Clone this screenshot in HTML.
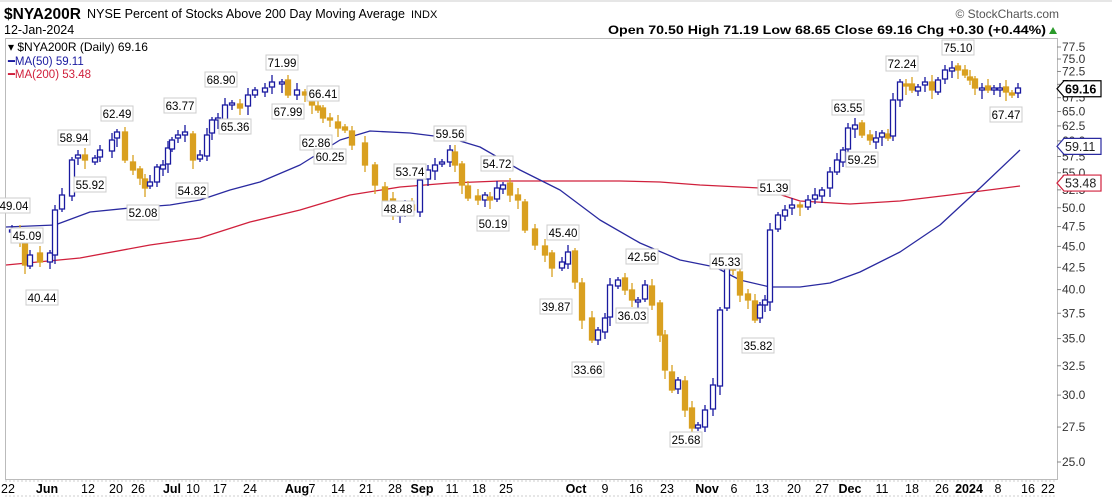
<!DOCTYPE html>
<html><head><meta charset="utf-8"><style>
body{margin:0;background:#fff;width:1112px;height:497px;overflow:hidden;font-family:"Liberation Sans",sans-serif}
svg{position:absolute;left:0;top:0}
</style></head><body>
<svg id="s" width="1112" height="497" xmlns="http://www.w3.org/2000/svg" font-family="Liberation Sans, sans-serif">
<rect x="0" y="0" width="1112" height="497" fill="#fff"/>
<line x1="0" y1="1" x2="1112" y2="1" stroke="#ccc"/>
<text x="4" y="19" font-size="16" font-weight="bold" textLength="77" lengthAdjust="spacingAndGlyphs">$NYA200R</text>
<text x="87" y="18" font-size="12.5" textLength="318" lengthAdjust="spacingAndGlyphs">NYSE Percent of Stocks Above 200 Day Moving Average</text>
<text x="411" y="18" font-size="11">INDX</text>
<text x="4" y="34" font-size="12.5">12-Jan-2024</text>
<text x="1059" y="18" font-size="12" text-anchor="end" fill="#555">© StockCharts.com</text>
<text x="608" y="34" font-size="12" font-weight="bold" textLength="438" lengthAdjust="spacingAndGlyphs">Open 70.50  High 71.19  Low 68.65  Close 69.16  Chg +0.30 (+0.44%)</text>
<polygon points="1049,34 1057,34 1053,27" fill="#2a9a2a"/>
<rect x="5.5" y="38.5" width="1052" height="441" fill="none" stroke="#bbb"/>
<g id="g"></g>
<text x="8" y="51" font-size="12">▾ $NYA200R (Daily) 69.16</text>
<text x="8" y="65" font-size="11.5" fill="#1a1aa0">━MA(50) 59.11</text>
<text x="8" y="78" font-size="11.5" fill="#d0203c">━MA(200) 53.48</text>
</svg>
<script>
(function(){
var g=document.getElementById('g'),h='';
function Y(v){return 462-366.8*Math.log(v/25);}
for(var v=25;v<=77.6;v+=2.5){var y=Y(v);h+='<line x1="1057" y1="'+y+'" x2="1061" y2="'+y+'" stroke="#888"/><text x="1062" y="'+(y+4)+'" font-size="12" fill="#333">'+v.toFixed(1)+'</text>';}
var P=[[8,232],[12,230],[20,240],[25,265],[30,255],[40,262],[50,253],[55,210],[62,195],[72,160],[78,155],[85,160],[95,158],[100,150],[112,140],[117,132],[125,160],[133,170],[140,178],[145,188],[150,182],[157,167],[163,165],[168,148],[172,140],[178,135],[185,132],[193,160],[200,155],[207,135],[212,120],[218,118],[225,105],[232,103],[240,108],[248,95],[255,90],[265,88],[272,82],[282,82],[288,95],[297,90],[305,95],[312,105],[318,110],[323,118],[330,120],[338,128],[345,130],[352,145],[365,165],[375,185],[385,200],[393,215],[400,210],[405,205],[412,210],[420,180],[428,170],[435,165],[442,162],[450,150],[455,165],[462,185],[468,198],[478,200],[485,195],[490,200],[497,188],[503,185],[510,195],[518,200],[525,230],[535,245],[545,255],[552,268],[562,262],[568,252],[575,282],[582,320],[592,340],[598,330],[605,318],[610,285],[618,280],[625,290],[632,300],[638,300],[645,285],[652,305],[660,335],[665,370],[672,390],[678,380],[685,410],[692,428],[698,425],[705,410],[713,385],[720,310],[727,265],[733,270],[740,295],[748,300],[755,320],[760,305],[765,300],[770,230],[778,215],[785,210],[792,205],[800,205],[808,200],[815,195],[822,190],[830,172],[837,160],[843,150],[848,128],[855,125],[862,135],[870,140],[876,138],[882,133],[888,138],[893,100],[900,82],[906,85],[912,90],[918,87],[925,82],[932,90],[938,80],[945,70],[952,68],[958,70],[965,75],[970,80],[975,88],[982,88],[988,90],[994,88],[1000,88],[1006,92],[1012,95],[1018,88]];
function line(pts,c){var d='M'+pts.map(function(p){return p.join(',')}).join(' L');h+='<path d="'+d+'" fill="none" stroke="'+c+'" stroke-width="1.3" stroke-linejoin="round"/>';}
line([[6,265],[80,258],[150,245],[200,238],[250,222],[300,210],[350,195],[400,187],[450,183],[500,181],[560,181],[620,181],[660,182],[700,185],[760,188],[800,201],[850,204],[900,201],[950,195],[1020,186]],'#d0203c');
line([[6,227],[55,225],[90,212],[130,208],[170,205],[200,200],[230,190],[260,182],[300,165],[340,140],[370,131],[410,133],[450,138],[480,147],[520,170],[560,190],[600,220],[640,243],[680,260],[715,267],[740,280],[770,287],[800,287],[830,283],[860,272],[900,252],[940,225],[980,188],[1020,150]],'#2a2aa0');
for(var i=1;i<P.length;i++){var x=P[i][0],c=P[i][1],o=P[i-1][1]+((i*7)%5-2);
 var tp=Math.min(o,c),bt=Math.max(o,c);if(bt-tp<2){bt=tp+2;}
 var up=c<o,col=up?'#1a1aa0':'#d9a020';
 h+='<line x1="'+x+'" y1="'+(tp-3-(i%3)*2)+'" x2="'+x+'" y2="'+(bt+3+(i%4)*2)+'" stroke="'+col+'" stroke-width="1.3"/>';
 h+='<rect x="'+(x-2.5)+'" y="'+tp+'" width="5" height="'+(bt-tp)+'" fill="'+(up?'#fff':col)+'" stroke="'+col+'" stroke-width="1.3"/>';}
var L=[[14,206,'49.04'],[27,236,'45.09'],[42,298,'40.44'],[74,138,'58.94'],[90,185,'55.92'],[117,114,'62.49'],[143,213,'52.08'],[180,106,'63.77'],[192,191,'54.82'],[221,80,'68.90'],[235,127,'65.36'],[282,63,'71.99'],[288,112,'67.99'],[323,94,'66.41'],[316,143,'62.86'],[330,157,'60.25'],[410,172,'53.74'],[398,209,'48.48'],[450,134,'59.56'],[497,164,'54.72'],[493,224,'50.19'],[563,233,'45.40'],[556,307,'39.87'],[642,257,'42.56'],[632,316,'36.03'],[588,370,'33.66'],[686,440,'25.68'],[726,262,'45.33'],[758,346,'35.82'],[774,188,'51.39'],[848,108,'63.55'],[862,160,'59.25'],[902,64,'72.24'],[958,48,'75.10'],[1006,115,'67.47']];
L.forEach(function(l){var x=l[0],y=l[1];h+='<rect x="'+(x-16)+'" y="'+(y-8)+'" width="32" height="15" fill="#fff" stroke="#ccc"/><text x="'+x+'" y="'+(y+4)+'" font-size="11.5" text-anchor="middle">'+l[2]+'</text>';});
function tag(v,t,c,bw){var y=Y(v);h+='<polygon points="1057,'+y+' 1064,'+(y-8)+' 1101,'+(y-8)+' 1101,'+(y+8)+' 1064,'+(y+8)+'" fill="#fff" stroke="'+c+'" stroke-width="1.2"/><text x="1065" y="'+(y+4.5)+'" font-size="12.5" '+(bw?'font-weight="bold"':'')+' fill="'+(bw?'#000':'#222')+'">'+t+'</text>';}
tag(69.16,'69.16','#000',1);tag(59.11,'59.11','#2a2aa0');tag(53.48,'53.48','#d0203c');
h+='<line x1="5" y1="481" x2="1057" y2="481" stroke="#ccc" stroke-dasharray="2,2"/><line x1="5" y1="496" x2="1057" y2="496" stroke="#ccc" stroke-dasharray="2,2"/>';
var X=[[8,'22'],[47,'Jun',1],[88,'12'],[116,'20'],[138,'26'],[172,'Jul',1],[193,'10'],[220,'17'],[250,'24'],[297,'Aug',1],[312,'7'],[338,'14'],[366,'21'],[395,'28'],[422,'Sep',1],[452,'11'],[479,'18'],[506,'25'],[576,'Oct',1],[605,'9'],[636,'16'],[667,'23'],[707,'Nov',1],[734,'6'],[762,'13'],[794,'20'],[822,'27'],[850,'Dec',1],[882,'11'],[912,'18'],[942,'26'],[969,'2024',1],[998,'8'],[1028,'16'],[1048,'22']];
X.forEach(function(a){h+='<text x="'+a[0]+'" y="493" font-size="12.5" text-anchor="middle" '+(a[2]?'font-weight="bold"':'')+'>'+a[1]+'</text>';});
g.innerHTML=h;
})();
</script>
</body></html>
